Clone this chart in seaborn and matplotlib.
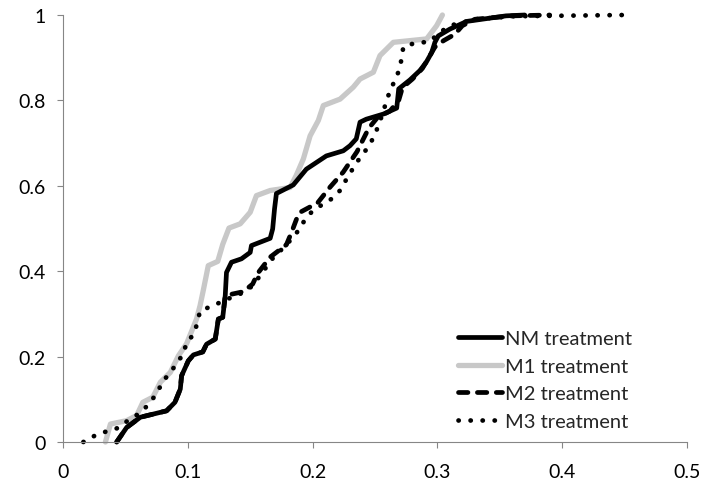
import numpy as np
import pandas as pd
import seaborn as sns
import matplotlib.pyplot as plt

# curves (cumulative share vs value)
nm_x = [0.043, 0.051, 0.062, 0.083, 0.0897, 0.094, 0.095, 0.1004, 0.1045, 0.112, 0.115, 0.122,
        0.1245, 0.128, 0.130, 0.131, 0.135, 0.143, 0.150, 0.151, 0.166, 0.168, 0.1695, 0.171,
        0.1845, 0.195, 0.211, 0.2246, 0.230, 0.235, 0.238, 0.243, 0.2567, 0.2674, 0.269, 0.278,
        0.286, 0.291, 0.2954, 0.298, 0.3007, 0.310, 0.3235, 0.355, 0.37]
nm_y = [0.0, 0.034, 0.058, 0.073, 0.093, 0.124, 0.155, 0.19, 0.204, 0.211, 0.229, 0.241,
        0.288, 0.292, 0.343, 0.397, 0.421, 0.429, 0.444, 0.460, 0.477, 0.499, 0.546, 0.582,
        0.602, 0.639, 0.670, 0.682, 0.694, 0.710, 0.749, 0.756, 0.768, 0.782, 0.827, 0.848,
        0.870, 0.889, 0.912, 0.936, 0.951, 0.967, 0.985, 0.998, 1.0]

m1_x = [0.034, 0.038, 0.051, 0.059, 0.064, 0.072, 0.078, 0.086, 0.0925, 0.099, 0.107, 0.1098,
        0.1124, 0.1164, 0.124, 0.128, 0.133, 0.142, 0.150, 0.155, 0.166, 0.182, 0.187, 0.1926,
        0.198, 0.2046, 0.2086, 0.222, 0.2326, 0.238, 0.2487, 0.254, 0.2647, 0.2914, 0.2994, 0.304]
m1_y = [0.0, 0.042, 0.05, 0.062, 0.093, 0.105, 0.14, 0.163, 0.202, 0.23, 0.288, 0.319,
        0.355, 0.413, 0.423, 0.463, 0.501, 0.511, 0.538, 0.577, 0.589, 0.596, 0.625, 0.663,
        0.717, 0.753, 0.788, 0.803, 0.831, 0.85, 0.866, 0.905, 0.936, 0.944, 0.975, 1.0]

m2_x = [0.043, 0.051, 0.062, 0.083, 0.0897, 0.094, 0.095, 0.1004, 0.1045, 0.112, 0.115, 0.122,
        0.1245, 0.128, 0.130, 0.1445, 0.152, 0.156, 0.166, 0.179, 0.183, 0.1875, 0.190, 0.204,
        0.214, 0.2245, 0.2356, 0.245, 0.252, 0.262, 0.269, 0.272, 0.28, 0.288, 0.293, 0.298,
        0.305, 0.314, 0.32, 0.33, 0.36, 0.39]
m2_y = [0.0, 0.034, 0.058, 0.073, 0.093, 0.124, 0.155, 0.19, 0.204, 0.211, 0.229, 0.241,
        0.288, 0.292, 0.343, 0.352, 0.37, 0.395, 0.433, 0.462, 0.49, 0.525, 0.538, 0.560,
        0.597, 0.632, 0.68, 0.735, 0.76, 0.775, 0.80, 0.83, 0.85, 0.875, 0.90, 0.925,
        0.94, 0.955, 0.975, 0.99, 0.998, 1.0]

m3_x = [0.0163, 0.0256, 0.035, 0.0443, 0.051, 0.0577, 0.065, 0.071, 0.076, 0.0804, 0.0857, 0.091,
        0.0964, 0.099, 0.105, 0.1077, 0.1098, 0.119, 0.1276, 0.136, 0.1445, 0.152, 0.158, 0.168,
        0.18, 0.19, 0.194, 0.2006, 0.21, 0.215, 0.222, 0.228, 0.2356, 0.2404, 0.246, 0.25,
        0.255, 0.259, 0.262, 0.266, 0.2695, 0.2714, 0.2727, 0.283, 0.294, 0.3, 0.31, 0.33,
        0.36, 0.45]
m3_y = [0.0, 0.015, 0.025, 0.033, 0.048, 0.06, 0.077, 0.097, 0.119, 0.144, 0.161, 0.184,
        0.206, 0.233, 0.253, 0.28, 0.307, 0.318, 0.329, 0.340, 0.350, 0.366, 0.39, 0.43,
        0.465, 0.5, 0.522, 0.543, 0.56, 0.569, 0.589, 0.62, 0.656, 0.674, 0.698, 0.72,
        0.76, 0.796, 0.823, 0.847, 0.872, 0.899, 0.926, 0.935, 0.937, 0.955, 0.975, 0.99,
        0.997, 1.0]

x_ticks = [0, 0.1, 0.2, 0.3, 0.4, 0.5]
x_labels = ['0', '0.1', '0.2', '0.3', '0.4', '0.5']
y_ticks = [0, 0.2, 0.4, 0.6, 0.8, 1.0]
y_labels = ['0', '0.2', '0.4', '0.6', '0.8', '1']

sns.set_theme(style='white')
plt.rcParams['font.family'] = ['Lato', 'DejaVu Sans']

fig = plt.figure(figsize=(7.02, 4.85), dpi=100)
ax = fig.add_axes([63/702, 1 - 443/485, 624/702, 427/485])

lw = 3.4
# gray first so the black solid sits over it where they cross
sns.lineplot(x=m1_x, y=m1_y, ax=ax, sort=False, estimator=None, color='#c8c8c8',
             lw=3.8, solid_capstyle='round', solid_joinstyle='round', clip_on=False,
             label='M1 treatment')
sns.lineplot(x=nm_x, y=nm_y, ax=ax, sort=False, estimator=None, color='black',
             lw=lw, solid_capstyle='round', solid_joinstyle='round', clip_on=False,
             label='NM treatment')
sns.lineplot(x=m2_x, y=m2_y, ax=ax, sort=False, estimator=None, color='black',
             lw=lw, linestyle=(0, (2, 2)), dash_capstyle='round', clip_on=False,
             label='M2 treatment')
sns.lineplot(x=m3_x, y=m3_y, ax=ax, sort=False, estimator=None, color='black',
             lw=lw, linestyle=(0, (0.05, 2.5)), dash_capstyle='round', clip_on=False,
             label='M3 treatment')

ax.set_xlim(0, 0.5)
ax.set_ylim(0, 1)
ax.set_xticks(x_ticks)
ax.set_xticklabels(x_labels)
ax.set_yticks(y_ticks)
ax.set_yticklabels(y_labels)
ax.set_xlabel('')
ax.set_ylabel('')

for side in ['top', 'right']:
    ax.spines[side].set_visible(False)
for side in ['left', 'bottom']:
    ax.spines[side].set_color('#868686')
    ax.spines[side].set_linewidth(0.8)
ax.tick_params(axis='x', direction='out', length=4.5, width=0.8, color='#868686',
               pad=10.5, labelsize=14, labelcolor='black', bottom=True)
ax.tick_params(axis='y', direction='out', length=4.5, width=0.8, color='#868686',
               pad=8, labelsize=14, labelcolor='black', left=True)

handles, labels = ax.get_legend_handles_labels()
order = [labels.index(n) for n in ['NM treatment', 'M1 treatment', 'M2 treatment', 'M3 treatment']]
ax.legend([handles[i] for i in order], [labels[i] for i in order],
          loc='upper left', bbox_to_anchor=(458/702, 1 - 331/485), bbox_transform=fig.transFigure,
          frameon=False, fontsize=14.5, handlelength=2.2, handletextpad=0.15,
          labelspacing=0.52, borderpad=0, borderaxespad=0)

fig.savefig('out.png', dpi=100)
